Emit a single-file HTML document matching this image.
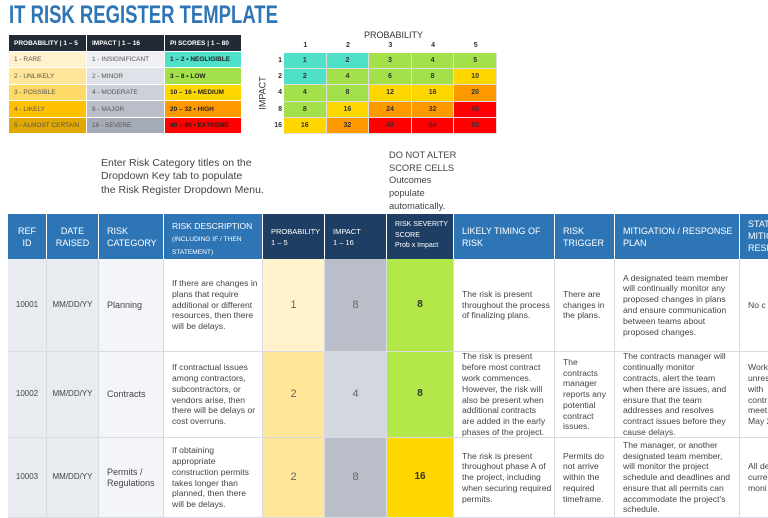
<!DOCTYPE html>
<html><head><meta charset="utf-8">
<style>
*{margin:0;padding:0;box-sizing:border-box}
body{width:768px;height:512px;overflow:hidden;background:#fff;font-family:"Liberation Sans",sans-serif;position:relative;color:#444}
.a{position:absolute}
.lg{position:absolute;font-size:6.5px;display:flex;align-items:center;padding-left:5px;border-right:1px solid #fff;border-bottom:1px solid #fff;color:#555}
.lh{background:#222B35;color:#fff;font-weight:bold}
.c{position:absolute;border-right:1px solid #d8dce2;border-bottom:1px solid #d8dce2;font-size:8.6px;line-height:10.8px;display:flex;align-items:center;overflow:hidden;white-space:nowrap}
.h{color:#fff;font-size:9px;line-height:12px;align-items:flex-start;padding-top:11px;border-color:#fff;border-bottom:none}
.hb{background:#2E75B6}
.hd{background:#1F3E64;font-size:7.5px;line-height:11px}
.mx{position:absolute;font-size:7px;font-weight:bold;color:#333;display:flex;align-items:center;justify-content:center;border-right:1px solid #ddd;border-bottom:1px solid #ddd}
</style></head><body>
<div class="a" style="left:9px;top:1px;font-size:25px;font-weight:bold;color:#2E75B6;transform:scaleX(0.74);transform-origin:left top;white-space:nowrap">IT RISK REGISTER TEMPLATE</div>

<div>
<div class="lg lh" style="left:9px;top:35px;width:78px;height:17px">PROBABILITY | 1 – 5</div>
<div class="lg lh" style="left:87px;top:35px;width:78px;height:17px">IMPACT | 1 – 16</div>
<div class="lg lh" style="left:165px;top:35px;width:77px;height:17px">PI SCORES | 1 – 80</div>
<div class="lg" style="left:9px;top:52px;width:78px;height:16px;background:#FFF2CC">1 - RARE</div>
<div class="lg" style="left:9px;top:68px;width:78px;height:17px;background:#FFE699">2 - UNLIKELY</div>
<div class="lg" style="left:9px;top:85px;width:78px;height:16px;background:#FFD966">3 - POSSIBLE</div>
<div class="lg" style="left:9px;top:101px;width:78px;height:17px;background:#FFC000">4 - LIKELY</div>
<div class="lg" style="left:9px;top:118px;width:78px;height:16px;background:#E0A800">5 - ALMOST CERTAIN</div>
<div class="lg" style="left:87px;top:52px;width:78px;height:16px;background:#EEF0F4">1 - INSIGNIFICANT</div>
<div class="lg" style="left:87px;top:68px;width:78px;height:17px;background:#DFE2E8">2 - MINOR</div>
<div class="lg" style="left:87px;top:85px;width:78px;height:16px;background:#CDD1D9">4 - MODERATE</div>
<div class="lg" style="left:87px;top:101px;width:78px;height:17px;background:#B9BEC8">8 - MAJOR</div>
<div class="lg" style="left:87px;top:118px;width:78px;height:16px;background:#A5ABB6">16 - SEVERE</div>
<div class="lg" style="left:165px;top:52px;width:77px;height:16px;background:#4FE0C8;font-weight:bold;color:#222">1 – 2 • NEGLIGIBLE</div>
<div class="lg" style="left:165px;top:68px;width:77px;height:17px;background:#A3E04A;font-weight:bold;color:#222">3 – 8 • LOW</div>
<div class="lg" style="left:165px;top:85px;width:77px;height:16px;background:#FFD700;font-weight:bold;color:#222">10 – 16 • MEDIUM</div>
<div class="lg" style="left:165px;top:101px;width:77px;height:17px;background:#FF9900;font-weight:bold;color:#222">20 – 32 • HIGH</div>
<div class="lg" style="left:165px;top:118px;width:77px;height:16px;background:#FF0000;font-weight:bold;color:#222">40 – 80 • EXTREME</div>
</div>

<div class="a" style="left:364px;top:30px;font-size:9px;color:#333">PROBABILITY</div>
<div class="a" style="left:246px;top:88px;font-size:9px;color:#333;transform:rotate(-90deg);transform-origin:center">IMPACT</div>
<div id="matrix"></div>

<div class="a" style="left:101px;top:157px;font-size:10.5px;line-height:13.3px;color:#444">Enter Risk Category titles on the<br>Dropdown Key tab to populate<br>the Risk Register Dropdown Menu.</div>
<div class="a" style="left:389px;top:149px;font-size:9.3px;line-height:12.7px;color:#444">DO NOT ALTER<br>SCORE CELLS<br>Outcomes<br>populate<br>automatically.</div>

<div>
<div class="c h hb" style="left:8px;top:214px;width:39px;height:45px;justify-content:center;text-align:center">REF<br>ID</div>
<div class="c h hb" style="left:47px;top:214px;width:52px;height:45px;justify-content:center;text-align:center">DATE<br>RAISED</div>
<div class="c h hb" style="left:99px;top:214px;width:65px;height:45px;padding-left:8px">RISK<br>CATEGORY</div>
<div class="c h hb" style="left:164px;top:214px;width:99px;height:45px;padding-left:8px;padding-top:6px"><div style="font-size:8.5px">RISK DESCRIPTION<br><span style="font-size:6.6px;line-height:10px">(INCLUDING IF / THEN<br>STATEMENT)</span></div></div>
<div class="c h hd" style="left:263px;top:214px;width:62px;height:45px;padding-left:8px;padding-top:12px">PROBABILITY<br>1 – 5</div>
<div class="c h hd" style="left:325px;top:214px;width:62px;height:45px;padding-left:8px;padding-top:12px">IMPACT<br>1 – 16</div>
<div class="c h hd" style="left:387px;top:214px;width:67px;height:45px;padding-left:8px;padding-top:6px;font-size:7px;line-height:10.5px">RISK SEVERITY<br>SCORE<br>Prob x Impact</div>
<div class="c h hb" style="left:454px;top:214px;width:101px;height:45px;padding-left:8px">LIKELY TIMING OF<br>RISK</div>
<div class="c h hb" style="left:555px;top:214px;width:60px;height:45px;padding-left:8px">RISK<br>TRIGGER</div>
<div class="c h hb" style="left:615px;top:214px;width:125px;height:45px;padding-left:8px">MITIGATION / RESPONSE<br>PLAN</div>
<div class="c h hb" style="left:740px;top:214px;width:40px;height:45px;padding-left:8px;padding-top:4px">STATUS OF<br>MITIGATION /<br>RESPONSE</div>
</div>
<div id="rows"></div>

<script>
// matrix data
var probLabels=[1,2,3,4,5];
var impactLabels=[1,2,4,8,16];
var row1=[1,2,3,4,5];
var row2=[2,4,6,8,10];
var row3=[4,8,12,16,20];
var row4=[8,16,24,32,40];
var row5=[16,32,48,64,80];
var matrixRows=[row1,row2,row3,row4,row5];
function scoreColor(v){return v<=2?'#4FE0C8':v<=8?'#A3E04A':v<=16?'#FFD700':v<=32?'#FF9900':'#FF0000';}
var mx=document.getElementById('matrix');
var X0=284,Y0=53,CW=42.6,RH=16.2;
function colX(i){return X0+i*CW;}
function rowY(j){return Y0+j*RH;}
probLabels.forEach(function(p,i){
  var d=document.createElement('div');d.className='a';
  
  
  d.style.cssText='left:'+colX(i)+'px;top:42px;width:'+CW+'px;text-align:center;font-size:7px;font-weight:bold;color:#333';
  d.textContent=p;mx.appendChild(d);
});
impactLabels.forEach(function(p,j){
  var d=document.createElement('div');d.className='a';
  
  
  d.style.cssText='left:268px;top:'+(rowY(j)+4)+'px;width:14px;text-align:right;font-size:7px;font-weight:bold;color:#333';
  d.textContent=p;mx.appendChild(d);
});
matrixRows.forEach(function(r,j){r.forEach(function(v,i){
  var d=document.createElement('div');d.className='mx';
  
  
  d.style.left=colX(i)+'px';d.style.top=rowY(j)+'px';d.style.width=CW+'px';d.style.height=RH+'px';
  d.style.background=scoreColor(v);d.textContent=v;mx.appendChild(d);
});});

// register rows
var ids=['10001','10002','10003'];
var cats=['Planning','Contracts','Permits /<br>Regulations'];
var probs=[1,2,2];
var impacts=[8,4,8];
var severities=[8,8,16];
var descs=['If there are changes in<br>plans that require<br>additional or different<br>resources, then there<br>will be delays.','If contractual issues<br>among contractors,<br>subcontractors, or<br>vendors arise, then<br>there will be delays or<br>cost overruns.','If obtaining<br>appropriate<br>construction permits<br>takes longer than<br>planned, then there<br>will be delays.'];
var timings=['The risk is present<br>throughout the process<br>of finalizing plans.','The risk is present<br>before most contract<br>work commences.<br>However, the risk will<br>also be present when<br>additional contracts<br>are added in the early<br>phases of the project.','The risk is present<br>throughout phase A of<br>the project, including<br>when securing required<br>permits.'];
var triggers=['There are<br>changes in<br>the plans.','The<br>contracts<br>manager<br>reports any<br>potential<br>contract<br>issues.','Permits do<br>not arrive<br>within the<br>required<br>timeframe.'];
var plans=['A designated team member<br>will continually monitor any<br>proposed changes in plans<br>and ensure communication<br>between teams about<br>proposed changes.','The contracts manager will<br>continually monitor<br>contracts, alert the team<br>when there are issues, and<br>ensure that the team<br>addresses and resolves<br>contract issues before they<br>cause delays.','The manager, or another<br>designated team member,<br>will monitor the project<br>schedule and deadlines and<br>ensure that all permits can<br>accommodate the project\'s<br>schedule.'];
var statuses=['No c','Work<br>unres<br>with<br>contr<br>meet<br>May 2','All de<br>curre<br>moni'];
var probColors={1:'#FFF2CC',2:'#FFE699',3:'#FFD966',4:'#FFC000',5:'#E0A800'};
var impColors={1:'#EEF0F4',2:'#DFE2E8',4:'#D3D8E0',8:'#B9BEC8',16:'#A5ABB6'};
var rowTops=[259,352,438],rowHs=[93,86,80];
var rw=document.getElementById('rows');
function cell(name,l,w,t,h,bg,html,center,extra){
  var d=document.createElement('div');d.className='c';
  
  
  d.style.cssText='left:'+l+'px;top:'+t+'px;width:'+w+'px;height:'+h+'px;background:'+bg+';'+(center?'justify-content:center;':'padding-left:8px;')+(extra||'');
  d.innerHTML='<div>'+html+'</div>';rw.appendChild(d);
}
ids.forEach(function(id,k){
  var t=rowTops[k],h=rowHs[k];
  cell('ref-id-cell',8,39,t,h,'#E8EBF0',id,true,'font-size:8px');
  cell('date-cell',47,52,t,h,'#E8EBF0','MM/DD/YY',true,'font-size:8px');
  cell('category-cell',99,65,t,h,'#F4F5F8',cats[k],false,'font-size:9px');
  cell('description-cell',164,99,t,h,'#fff',descs[k],false);
  cell('probability-cell',263,62,t,h,probColors[probs[k]],probs[k],true,'font-size:11px;color:#666');
  cell('impact-cell',325,62,t,h,impColors[impacts[k]],impacts[k],true,'font-size:11px;color:#666');
  cell('severity-cell',387,67,t,h,severities[k]<=8?'#B3E84A':scoreColor(severities[k]),severities[k],true,'font-size:10px;font-weight:bold;color:#333');
  cell('timing-cell',454,101,t,h,'#fff',timings[k],false);
  cell('trigger-cell',555,60,t,h,'#fff',triggers[k],false);
  cell('mitigation-cell',615,125,t,h,'#fff',plans[k],false);
  cell('status-cell',740,40,t,h,'#fff',statuses[k],false);
});
</script>
</body></html>
